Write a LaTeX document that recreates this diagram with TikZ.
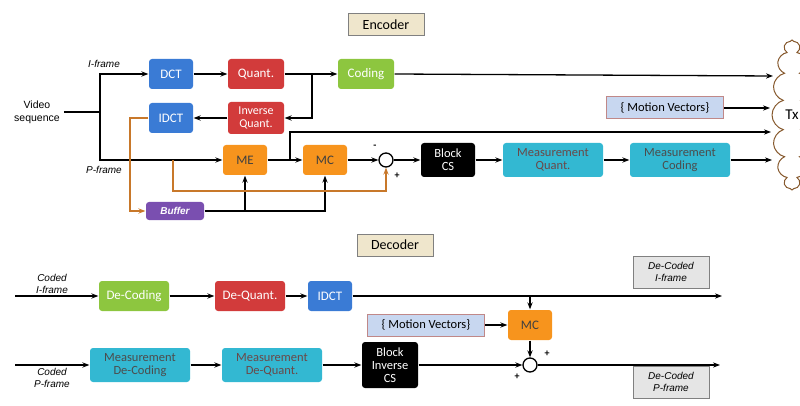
\documentclass[tikz,border=0pt]{standalone}
\usepackage{fontspec}
\setmainfont{Carlito}
\newfontfamily\arialf{Liberation Sans}
\usetikzlibrary{shapes.symbols,arrows.meta}
\definecolor{dctblue}{HTML}{3A7BD5}
\definecolor{qred}{HTML}{D23B3B}
\definecolor{cgreen}{HTML}{8DC63F}
\definecolor{morange}{HTML}{F7941D}
\definecolor{mcyan}{HTML}{33B8D2}
\definecolor{bpurple}{HTML}{7A4FB0}
\definecolor{fbrown}{HTML}{C8782A}
\definecolor{mvblue}{HTML}{C8D7F0}
\definecolor{mvrim}{HTML}{C08888}
\definecolor{tagfill}{HTML}{EFE6CC}
\definecolor{mtext}{HTML}{6A4848}
\begin{document}
\begin{tikzpicture}[x=1pt,y=-1pt,line width=1.3pt,>={Stealth[length=7pt]},
    blk/.style={draw=none,rounded corners=3pt,text=white,minimum height=30pt,minimum width=44pt,inner sep=1pt,font=\fontsize{13}{14}\selectfont,align=center},
    wide/.style={blk,fill=mcyan,minimum width=100pt,minimum height=34pt,font=\fontsize{12.5}{13}\selectfont},
    tag/.style={draw=gray,fill=tagfill,line width=1pt,minimum width=76pt,minimum height=22pt,font=\fontsize{14}{15}\selectfont},
    outbox/.style={draw=gray,fill=gray!20,line width=1pt,minimum width=76pt,minimum height=32pt,inner sep=1pt,align=center,font=\arialf\itshape\fontsize{10}{12}\selectfont},
    mv/.style={draw=mvrim,fill=mvblue,line width=1pt,minimum width=117pt,minimum height=22pt,inner sep=1pt,font=\fontsize{12.5}{13}\selectfont},
    lbl/.style={font=\arialf\itshape\fontsize{10}{12}\selectfont,align=center},
    sum/.style={draw,circle,fill=white,inner sep=0pt,minimum size=14pt},
    fb/.style={draw=fbrown}]
    \useasboundingbox (0,0) rectangle (800,406);
    % encoder
    \node[tag] (enc) at (386,25) {Encoder};
    \node[align=center,font=\arialf\fontsize{10.5}{13}\selectfont] (vid) at (37,112) {Video\\sequence};
    \node[lbl] (ilbl) at (104,64) {I-frame};
    \node[lbl] (plbl) at (104,170) {P-frame};
    \node[blk,fill=dctblue] (dct) at (171,74) {DCT};
    \node[blk,fill=qred,minimum width=56pt] (q) at (256,74) {Quant.};
    \node[blk,fill=cgreen,minimum width=56pt] (cod) at (366,74) {Coding};
    \node[blk,fill=dctblue] (idct) at (171,118) {IDCT};
    \node[blk,fill=qred,minimum width=56pt,minimum height=32pt,font=\fontsize{12}{13}\selectfont] (iq) at (256,118) {Inverse\\Quant.};
    \node[blk,fill=morange,text=black!75] (me) at (245,160) {ME};
    \node[blk,fill=morange,text=black!75] (mc) at (325,160) {MC};
    \node[sum] (s1) at (386,160) {};
    \node[blk,fill=black,minimum width=54pt,minimum height=34pt,font=\fontsize{12.5}{13}\selectfont] (bcs) at (448,160) {Block\\CS};
    \node[wide,text=mtext] (mq) at (553,160) {Measurement\\Quant.};
    \node[wide,text=black!70] (mcod) at (680,160) {Measurement\\Coding};
    \node[blk,fill=bpurple,minimum width=58pt,minimum height=18pt,font=\arialf\bfseries\itshape\fontsize{10}{11}\selectfont] (buf) at (175,211) {Buffer};
    \node[mv] (mv1) at (665,108) {\{ Motion Vectors\}};
    \node[cloud,draw=brown!70!black,line width=1pt,fill=white,cloud puffs=16,aspect=0.25,minimum width=40pt,minimum height=150pt,inner sep=0pt,font=\fontsize{15}{16}\selectfont] (tx) at (792,115) {Tx};
    \node at (375,147) {\textbf{-}};
    \node at (397,176) {\textbf{+}};
    \coordinate (sp) at (100,112);
    \draw (vid.east) -- (sp);
    \draw[->] (sp) |- (dct.west);
    \draw[->] (sp) |- (me.west);
    \path[->] (dct) edge (q) (q) edge (cod) (me) edge (mc) (mc) edge (s1)
        (s1) edge (bcs) (bcs) edge (mq) (mq) edge (mcod) (iq) edge (idct);
    \draw[->] (312,74) |- (iq.east);
    \draw[->] (cod.east) -- (773,76);
    \draw[->] (mv1.east) -- (770,108);
    \draw[->] (mcod.east) -- (772,160);
    \draw[->] (290,160) |- (771,132);
    \draw[->] (buf.east) -| (mc.south);
    \draw[->] (me.south |- buf.east) -- (me.south);
    \draw[fb,->] (idct.west) -| (130,211) -- (buf.west);
    \draw[fb,->] (173,160) |- (386,191) -- (s1.south);
    % decoder
    \node[tag] (dec) at (395,245) {Decoder};
    \node[lbl] (cil) at (52,284) {Coded\\I-frame};
    \node[lbl] (cpl) at (52,378) {Coded\\P-frame};
    \node[blk,fill=cgreen,minimum width=70pt] (dcod) at (134,296) {De-Coding};
    \node[blk,fill=qred,minimum width=70pt] (dq) at (250,296) {De-Quant.};
    \node[blk,fill=dctblue] (didct) at (330,296) {IDCT};
    \node[outbox] (oi) at (671,272) {De-Coded\\I-frame};
    \node[blk,fill=morange,text=black!75] (dmc) at (530,325) {MC};
    \node[mv] (mv2) at (426,325) {\{ Motion Vectors\}};
    \node[wide,text=black!70] (mdc) at (140,365) {Measurement\\De-Coding};
    \node[wide,text=mtext] (mdq) at (272,365) {Measurement\\De-Quant.};
    \node[blk,fill=black,minimum width=56pt,minimum height=46pt,font=\fontsize{12.5}{13}\selectfont] (bics) at (390,365) {Block\\Inverse\\CS};
    \node[sum] (s2) at (530,365) {};
    \node[outbox] (op) at (671,382) {De-Coded\\P-frame};
    \node at (547,354) {\textbf{+}};
    \node at (517,377) {\textbf{+}};
    \coordinate (iin) at (15,296);
    \coordinate (pin) at (15,365);
    \coordinate (iend) at (722,296);
    \coordinate (pend) at (720,365);
    \path[->] (iin) edge (dcod) (dcod) edge (dq) (dq) edge (didct) (didct) edge (iend)
        (pin) edge (mdc) (mdc) edge (mdq) (mdq) edge (bics) (bics) edge (s2)
        (s2) edge (pend) (mv2) edge (dmc) (dmc) edge (s2);
    \draw[->] (dmc.north |- didct.east) -- (dmc.north);
\end{tikzpicture}
\end{document}
